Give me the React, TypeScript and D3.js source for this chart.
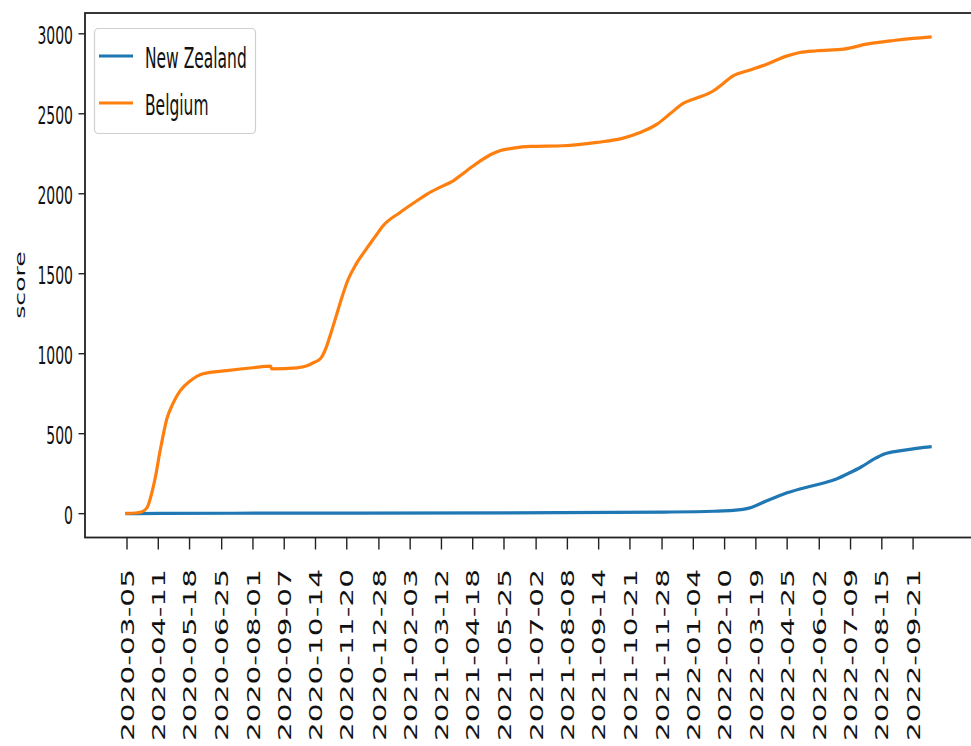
import React from 'react';
import * as d3 from 'd3';

const belgiumDates = [
  '2020-03-03', '2020-03-15', '2020-03-22', '2020-03-29', '2020-04-04', '2020-04-08', '2020-04-12',
  '2020-04-16', '2020-04-21', '2020-04-28', '2020-05-07', '2020-05-19', '2020-06-03', '2020-07-01', '2020-08-01',
  '2020-08-22', '2020-08-23', '2020-09-22', '2020-10-04', '2020-10-12', '2020-10-20', '2020-10-26',
  '2020-11-01', '2020-11-07', '2020-11-13', '2020-11-21', '2020-12-01', '2020-12-13', '2020-12-23',
  '2021-01-02', '2021-01-22', '2021-02-11', '2021-02-23', '2021-03-10', '2021-03-26', '2021-04-11',
  '2021-04-27', '2021-05-12', '2021-05-20', '2021-06-05', '2021-06-25', '2021-08-03', '2021-09-12',
  '2021-10-13', '2021-11-02', '2021-11-22', '2021-12-07', '2021-12-23', '2022-01-08', '2022-01-28',
  '2022-02-08', '2022-02-20', '2022-03-12', '2022-04-01', '2022-04-25', '2022-05-10', '2022-05-30',
  '2022-07-01', '2022-07-28', '2022-08-29', '2022-09-21', '2022-10-13',
];
const belgiumValues = [
  2, 4, 10, 40, 144, 240, 360,
  470, 590, 685, 769, 831, 875, 894, 912,
  922, 905, 912, 925, 945, 970, 1030,
  1125, 1227, 1331, 1456, 1560, 1654, 1727,
  1800, 1883, 1956, 1998, 2040, 2081, 2144,
  2206, 2252, 2269, 2285, 2296, 2300, 2321,
  2348, 2383, 2435, 2498, 2565, 2598, 2644,
  2688, 2737, 2773, 2810, 2862, 2883, 2894,
  2904, 2935, 2958, 2971, 2981,
];

const nzDates = [
  '2020-03-03', '2020-04-15', '2020-10-01', '2021-06-01', '2021-12-01', '2022-01-28', '2022-02-20',
  '2022-03-12', '2022-04-01', '2022-04-21', '2022-05-10', '2022-05-30', '2022-06-19', '2022-07-05',
  '2022-07-21', '2022-08-06', '2022-08-18', '2022-09-07', '2022-09-27', '2022-10-13',
];
const nzValues = [
  0, 2, 3, 5, 10, 15, 20,
  36, 81, 123, 154, 181, 210, 248,
  290, 342, 373, 394, 410, 419,
];

const xTickLabels = [
  '2020-03-05', '2020-04-11', '2020-05-18', '2020-06-25', '2020-08-01', '2020-09-07', '2020-10-14',
  '2020-11-20', '2020-12-28', '2021-02-03', '2021-03-12', '2021-04-18', '2021-05-25', '2021-07-02',
  '2021-08-08', '2021-09-14', '2021-10-21', '2021-11-28', '2022-01-04', '2022-02-10', '2022-03-19',
  '2022-04-25', '2022-06-02', '2022-07-09', '2022-08-15', '2022-09-21',
];
const yTicks = [0, 500, 1000, 1500, 2000, 2500, 3000];

const seriesNames = ['New Zealand', 'Belgium'];
const seriesColors = ['#1f77b4', '#ff7f0e'];

const FONT = 'DejaVu Sans, sans-serif';
const SY = 1.8;

export default function App() {
  const W = 971;
  const H = 746;
  const parse = d3.timeParse('%Y-%m-%d');
  const bel = belgiumDates.map((d, i) => ({ d: parse(d) as Date, v: belgiumValues[i] }));
  const nz = nzDates.map((d, i) => ({ d: parse(d) as Date, v: nzValues[i] }));
  const all = [...bel, ...nz];
  const [dMin, dMax] = d3.extent(all, (p) => p.d.getTime()) as [number, number];
  const pad = (dMax - dMin) * 0.05;
  const vMax = d3.max(all, (p) => p.v) as number;
  const vMin = 0;
  const vPad = (vMax - vMin) * 0.05;

  const left = 85;
  const right = 972;
  const top = 13;
  const bottom = 537.5;

  const x = d3.scaleTime().domain([new Date(dMin - pad), new Date(dMax + pad)]).range([left, right]);
  const y = d3.scaleLinear().domain([vMin - vPad, vMax + vPad]).range([bottom, top]);

  const line = d3
    .line<{ d: Date; v: number }>()
    .x((p) => x(p.d))
    .y((p) => y(p.v))
    .curve(d3.curveMonotoneX);

  const series = [nz, bel];

  return (
    <svg
      width={W}
      height={H}
      style={{ position: 'absolute', left: 0, top: 0, background: '#fff' }}
      fontFamily={FONT}
    >
      <rect x={0} y={0} width={W} height={H} fill="#fff" />
      {series.map((s, i) => (
        <path
          key={i}
          d={line(s) || ''}
          fill="none"
          stroke={seriesColors[i]}
          strokeWidth={3.2}
          strokeLinejoin="round"
          strokeLinecap="butt"
        />
      ))}
      {/* spines */}
      <rect x={left} y={top} width={right - left} height={bottom - top} fill="none" stroke="#222" strokeWidth={1.8} />
      {/* y ticks */}
      {yTicks.map((t) => (
        <g key={t}>
          <line x1={left - 6.5} x2={left} y1={y(t)} y2={y(t)} stroke="#222" strokeWidth={1.4} />
          <text
            transform={`translate(${left - 12},${y(t) + 1.5}) scale(1,${SY})`}
            textAnchor="end"
            dy="0.36em"
            fontSize={14}
            fill="#111"
          >
            {t}
          </text>
        </g>
      ))}
      {/* x ticks */}
      {xTickLabels.map((lab) => {
        const xx = x(parse(lab) as Date);
        return (
          <g key={lab}>
            <line x1={xx} x2={xx} y1={bottom} y2={bottom + 12} stroke="#222" strokeWidth={1.4} />
            <text
              transform={`translate(${xx},569) scale(1,1.6) rotate(-90)`}
              textAnchor="end"
              dy="0.36em"
              fontSize={18.5}
              fill="#111"
            >
              {lab}
            </text>
          </g>
        );
      })}
      {/* y label */}
      <text
        transform={`translate(20,285) scale(1,${SY}) rotate(-90)`}
        textAnchor="middle"
        dy="0.36em"
        fontSize={14}
        fill="#111"
      >
        score
      </text>
      {/* legend */}
      <rect x={94.5} y={28.5} width={161} height={105} rx={4} ry={4} fill="#fff" fillOpacity={0.8} stroke="#d0d0d0" strokeWidth={1.2} />
      {seriesNames.map((n, i) => {
        const ly = 56 + i * 47;
        return (
          <g key={n}>
            <line x1={99} x2={133} y1={ly} y2={ly} stroke={seriesColors[i]} strokeWidth={3.2} />
            <text
              transform={`translate(145,${ly + 1.5}) scale(1,${SY})`}
              dy="0.36em"
              fontSize={15.5}
              fill="#111"
            >
              {n}
            </text>
          </g>
        );
      })}
    </svg>
  );
}
